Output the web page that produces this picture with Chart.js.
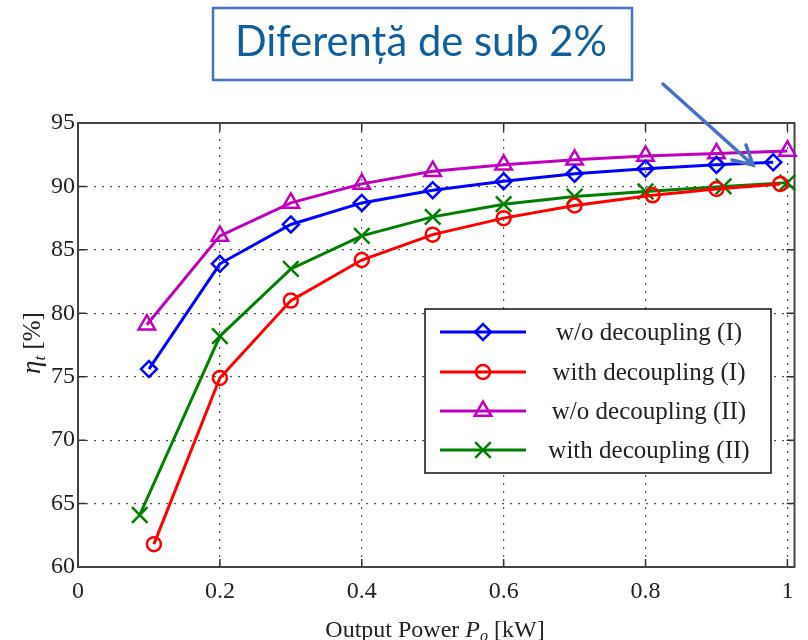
<!DOCTYPE html>
<html>
<head>
<meta charset="utf-8">
<script src="https://cdn.jsdelivr.net/npm/chart.js@4.4.0/dist/chart.umd.min.js"></script>
<style>
html, body { margin: 0; padding: 0; background: #fff; }
</style>
</head>
<body>
<canvas id="chart" width="808" height="640"></canvas>
<script>
// data
let xTicks = [0, 0.2, 0.4, 0.6, 0.8, 1];
let yTicks = [60, 65, 70, 75, 80, 85, 90, 95];

let powerWoI  = [0.1, 0.2, 0.3, 0.4, 0.5, 0.6, 0.7, 0.8, 0.9, 0.98];
let etaWoI    = [75.6, 83.9, 87.0, 88.7, 89.7, 90.4, 91.0, 91.4, 91.7, 91.9];

let powerWithI = [0.107, 0.2, 0.3, 0.4, 0.5, 0.6, 0.7, 0.81, 0.9, 0.99];
let etaWithI   = [61.8, 74.9, 81.0, 84.2, 86.2, 87.5, 88.5, 89.3, 89.8, 90.2];

let powerWoII = [0.097, 0.2, 0.3, 0.4, 0.5, 0.6, 0.7, 0.8, 0.9, 1.0];
let etaWoII   = [79.1, 86.1, 88.7, 90.2, 91.2, 91.7, 92.1, 92.4, 92.6, 92.8];

let powerWithII = [0.087, 0.2, 0.3, 0.4, 0.5, 0.6, 0.7, 0.8, 0.91, 1.0];
let etaWithII   = [64.1, 78.2, 83.5, 86.1, 87.6, 88.6, 89.2, 89.6, 90.0, 90.3];

let seriesNames = ['w/o decoupling (I)', 'with decoupling (I)', 'w/o decoupling (II)', 'with decoupling (II)'];
let noteText = 'Diferență de sub 2%';

function pts(xs, ys) {
    return xs.map(function (x, i) { return { x: x, y: ys[i] }; });
}

function makeSet(label, xs, ys, color, style, radius) {
    return {
        label: label,
        data: pts(xs, ys),
        showLine: true,
        borderColor: color,
        backgroundColor: 'rgba(0,0,0,0)',
        borderWidth: 3,
        pointStyle: style,
        pointRadius: radius,
        pointBorderWidth: 2.5,
        pointBorderColor: color,
        pointBackgroundColor: 'rgba(0,0,0,0)',
        clip: false
    };
}

let serif = '"Liberation Serif", "DejaVu Serif", serif';

// frame, inner ticks, legend, axis titles, note box + arrow
let decorPlugin = {
    id: 'decor',
    beforeDatasetsDraw: function (chart) {
        let ctx = chart.ctx;
        let a = chart.chartArea;
        let xs = chart.scales.x, ys = chart.scales.y;
        ctx.save();
        ctx.strokeStyle = '#333';
        ctx.lineWidth = 1.5;
        xTicks.forEach(function (v) {
            let px = xs.getPixelForValue(v);
            ctx.beginPath();
            ctx.moveTo(px, a.bottom); ctx.lineTo(px, a.bottom - 8);
            ctx.moveTo(px, a.top); ctx.lineTo(px, a.top + 8);
            ctx.stroke();
        });
        yTicks.forEach(function (v) {
            let py = ys.getPixelForValue(v);
            ctx.beginPath();
            ctx.moveTo(a.left, py); ctx.lineTo(a.left + 8, py);
            ctx.moveTo(a.right, py); ctx.lineTo(a.right - 8, py);
            ctx.stroke();
        });
        ctx.lineWidth = 2;
        ctx.strokeStyle = '#444';
        ctx.strokeRect(a.left, a.top, a.right - a.left, a.bottom - a.top);
        ctx.restore();
    },
    afterDraw: function (chart) {
        let ctx = chart.ctx;
        ctx.save();

        // legend
        let lx = 425, ly = 309, lw = 346, lh = 164;
        ctx.fillStyle = '#fff';
        ctx.fillRect(lx, ly, lw, lh);
        ctx.strokeStyle = '#111';
        ctx.lineWidth = 1.5;
        ctx.strokeRect(lx, ly, lw, lh);
        let rows = [332, 372, 411, 450];
        chart.data.datasets.forEach(function (ds, i) {
            let y = rows[i];
            ctx.setLineDash([]);
            ctx.strokeStyle = ds.borderColor;
            ctx.lineWidth = 3;
            ctx.beginPath();
            ctx.moveTo(440, y); ctx.lineTo(526, y);
            ctx.stroke();
            ctx.lineWidth = ds.pointBorderWidth;
            ctx.fillStyle = 'rgba(0,0,0,0)';
            Chart.helpers.drawPoint(ctx, {
                pointStyle: ds.pointStyle,
                radius: ds.pointRadius,
                rotation: 0,
                borderWidth: ds.pointBorderWidth
            }, 483, y);
            ctx.fillStyle = '#222';
            ctx.font = '25px ' + serif;
            ctx.textAlign = 'center';
            ctx.textBaseline = 'middle';
            ctx.fillText(ds.label, 649, y + 1);
        });

        // x title
        ctx.fillStyle = '#222';
        ctx.textBaseline = 'alphabetic';
        ctx.textAlign = 'left';
        let parts = [
            { t: 'Output Power ', f: '24px ' + serif, dy: 0 },
            { t: 'P', f: 'italic 24px ' + serif, dy: 0 },
            { t: 'o', f: 'italic 16px ' + serif, dy: 4 },
            { t: ' [kW]', f: '24px ' + serif, dy: 0 }
        ];
        let total = 0;
        parts.forEach(function (p) { ctx.font = p.f; total += ctx.measureText(p.t).width; });
        let cx = 435 - total / 2;
        parts.forEach(function (p) {
            ctx.font = p.f;
            ctx.fillText(p.t, cx, 637 + p.dy);
            cx += ctx.measureText(p.t).width;
        });

        // y title
        ctx.save();
        ctx.translate(40, 343);
        ctx.rotate(-Math.PI / 2);
        let yparts = [
            { t: 'η', f: 'italic 27px ' + serif, dy: 0 },
            { t: 't', f: 'italic 17px ' + serif, dy: 5 },
            { t: ' [%]', f: '25px ' + serif, dy: 0 }
        ];
        total = 0;
        yparts.forEach(function (p) { ctx.font = p.f; total += ctx.measureText(p.t).width; });
        cx = -total / 2;
        yparts.forEach(function (p) {
            ctx.font = p.f;
            ctx.fillText(p.t, cx, p.dy);
            cx += ctx.measureText(p.t).width;
        });
        ctx.restore();

        // note box
        ctx.fillStyle = '#fff';
        ctx.fillRect(213, 8, 419, 72);
        ctx.strokeStyle = '#4472C4';
        ctx.lineWidth = 2.5;
        ctx.strokeRect(213, 8, 419, 72);
        let size = 38;
        ctx.font = size + 'px Lato, "Open Sans", sans-serif';
        let w = ctx.measureText(noteText).width;
        size = size * 372 / w;
        ctx.font = size + 'px Lato, "Open Sans", sans-serif';
        ctx.fillStyle = '#0f5f9f';
        ctx.textAlign = 'left';
        ctx.fillText(noteText, 235, 56);

        // arrow
        ctx.strokeStyle = '#4472C4';
        ctx.lineWidth = 3.5;
        ctx.lineCap = 'round';
        ctx.beginPath();
        ctx.moveTo(663, 84); ctx.lineTo(753, 165);
        ctx.moveTo(746, 145); ctx.lineTo(753, 165); ctx.lineTo(732, 160);
        ctx.stroke();

        ctx.restore();
    }
};

new Chart(document.getElementById('chart'), {
    type: 'scatter',
    data: {
        datasets: [
            makeSet(seriesNames[0], powerWoI, etaWoI, '#0000FF', 'rectRot', 8),
            makeSet(seriesNames[1], powerWithI, etaWithI, '#FF0000', 'circle', 7),
            makeSet(seriesNames[2], powerWoII, etaWoII, '#BF00BF', 'triangle', 9.5),
            makeSet(seriesNames[3], powerWithII, etaWithII, '#007F00', 'crossRot', 11)
        ]
    },
    options: {
        responsive: false,
        animation: false,
        layout: { padding: { top: 123, right: 13, left: 0, bottom: 0 } },
        plugins: {
            legend: { display: false },
            tooltip: { enabled: false }
        },
        scales: {
            x: {
                type: 'linear',
                min: 0,
                max: 1.01,
                afterBuildTicks: function (scale) {
                    scale.ticks = xTicks.map(function (v) { return { value: v }; });
                },
                afterFit: function (scale) { scale.height = 73; },
                border: { display: false, dash: [2, 6] },
                grid: { color: '#555', lineWidth: 1.2, drawTicks: false },
                ticks: {
                    padding: 10,
                    color: '#222',
                    font: { family: serif, size: 24 },
                    maxRotation: 0,
                    callback: function (v) { return String(v); }
                }
            },
            y: {
                min: 60,
                max: 95,
                afterBuildTicks: function (scale) {
                    scale.ticks = yTicks.map(function (v) { return { value: v }; });
                },
                afterFit: function (scale) { scale.width = 78; },
                border: { display: false, dash: [2, 6] },
                grid: { color: '#555', lineWidth: 1.2, drawTicks: false },
                ticks: {
                    padding: 3,
                    color: '#222',
                    font: { family: serif, size: 24 }
                }
            }
        }
    },
    plugins: [decorPlugin]
});
</script>
</body>
</html>
